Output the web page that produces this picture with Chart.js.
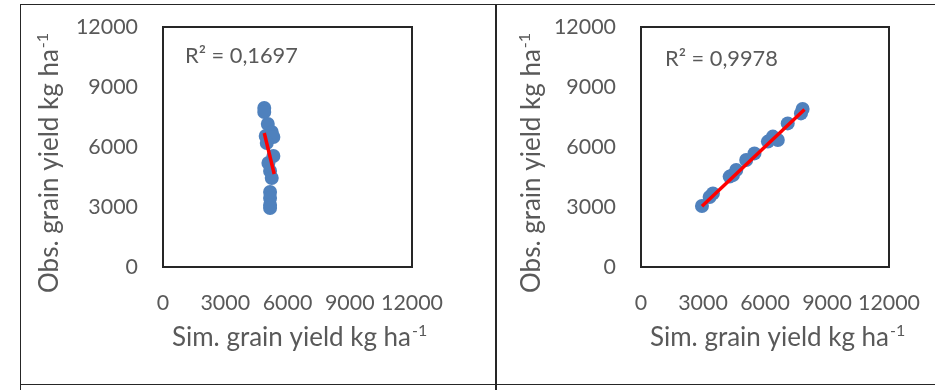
<!DOCTYPE html>
<html>
<head>
<meta charset="utf-8">
<script src="https://cdn.jsdelivr.net/npm/chart.js@4"></script>
<style>
  body { margin: 0; background: #fff; }
  #page { position: relative; width: 935px; height: 390px; overflow: hidden; background: #fff; }
  .rule { position: absolute; background: #262626; }
  canvas { position: absolute; }
</style>
</head>
<body>
<div id="page">
  <div class="rule" style="left:20px;top:4px;width:915px;height:1px"></div>
  <div class="rule" style="left:20px;top:384px;width:915px;height:1px"></div>
  <div class="rule" style="left:20px;top:4px;width:1px;height:386px"></div>
  <div class="rule" style="left:495px;top:4px;width:2px;height:386px"></div>
  <canvas id="chartLeft" width="474" height="379" style="left:21px;top:5px"></canvas>
  <canvas id="chartRight" width="438" height="379" style="left:497px;top:5px"></canvas>
</div>
<script>
// ---- data
var tickValues = [0, 3000, 6000, 9000, 12000];

// left panel
var leftSim = [4880, 4880, 5050, 5240, 4950, 5320, 5000, 5320, 5080, 5160, 5240, 5160, 5160, 5160, 5160];
var leftObs = [7950, 7750, 7150, 6750, 6550, 6500, 6200, 5550, 5200, 4800, 4450, 3750, 3450, 3100, 2950];
var leftTrendX = [4880, 5360];
var leftTrendY = [6700, 4650];
var leftR2 = '0,1697';

// right panel
var rightSim = [2950, 3320, 3480, 4290, 4450, 4610, 5090, 5490, 6140, 6380, 6620, 7100, 7740, 7820];
var rightObs = [3050, 3500, 3680, 4520, 4600, 4850, 5350, 5680, 6270, 6520, 6350, 7180, 7680, 7900];
var rightTrendX = [2950, 7910];
var rightTrendY = [3040, 7880];
var rightR2 = '0,9978';

var xTitle = 'Sim. grain yield kg ha';
var yTitle = 'Obs. grain yield kg ha';
var unitSup = '-1';

var textGrey = '#595959';
var blue = '#4f81bd';
var fontName = 'Lato';

// size fonts so the text widths match the picture (Calibri in the original)
var probe = document.createElement('canvas').getContext('2d');
function fitSize(text, base, width) {
    probe.font = base + 'px ' + fontName;
    return Math.round(base * width / probe.measureText(text).width * 10) / 10;
}
var tickSize = fitSize('12000', 21, 62);
var titleSize = fitSize(xTitle, 23, 239);
var r2Size = fitSize('R² = 0,1697', 21, 113);

function toPoints(xs, ys) {
    return xs.map((x, i) => ({ x: x, y: ys[i] }));
}

// draws text + a small raised "-1"
function supText(ctx, base, sup, x, y) {
    ctx.font = titleSize + 'px ' + fontName;
    ctx.fillText(base, x, y);
    let w = ctx.measureText(base).width;
    ctx.font = Math.round(titleSize * 0.62) + 'px ' + fontName;
    ctx.fillText(sup, x + w + 1, y - titleSize * 0.38);
}

var panelText = {
    id: 'panelText',
    afterDraw(chart, args, opts) {
        let ctx = chart.ctx;
        let a = chart.chartArea;
        ctx.save();
        // plot frame
        ctx.strokeStyle = '#262626';
        ctx.lineWidth = 2;
        ctx.strokeRect(a.left, a.top, a.right - a.left, a.bottom - a.top);

        ctx.fillStyle = textGrey;
        ctx.textAlign = 'left';
        ctx.textBaseline = 'alphabetic';

        // R² label
        ctx.font = r2Size + 'px ' + fontName;
        ctx.fillText('R² = ' + opts.r2, a.left + opts.r2dx, a.top + opts.r2dy);

        // x title
        supText(ctx, xTitle, unitSup, a.left + 9, a.bottom + 79);

        // y title, rotated
        ctx.translate(a.left - opts.yTitleGap, a.bottom + 26);
        ctx.rotate(-Math.PI / 2);
        supText(ctx, yTitle, unitSup, 0, 0);
        ctx.restore();
    }
};

function makeChart(id, sim, obs, trendX, trendY, r2, yWidth, rightPad, yTitleGap, r2dx, r2dy) {
    let ctx = document.getElementById(id).getContext('2d');
    return new Chart(ctx, {
        type: 'scatter',
        data: {
            datasets: [
                {
                    type: 'line',
                    label: 'Trend',
                    data: toPoints(trendX, trendY),
                    borderColor: '#ff0000',
                    borderWidth: 3.5,
                    pointRadius: 0,
                    fill: false,
                    order: 0
                },
                {
                    label: 'Obs',
                    data: toPoints(sim, obs),
                    pointRadius: 7,
                    pointBackgroundColor: blue,
                    pointBorderColor: blue,
                    pointBorderWidth: 0,
                    order: 1
                }
            ]
        },
        options: {
            responsive: false,
            animation: false,
            events: [],
            layout: { padding: { top: 22, right: rightPad, left: 0, bottom: 0 } },
            plugins: {
                legend: { display: false },
                tooltip: { enabled: false },
                panelText: { r2: r2, yTitleGap: yTitleGap, r2dx: r2dx, r2dy: r2dy }
            },
            scales: {
                x: {
                    type: 'linear',
                    min: 0,
                    max: 12000,
                    afterBuildTicks: s => { s.ticks = tickValues.map(v => ({ value: v })); },
                    afterFit: s => { s.height = 117; s.paddingLeft = 0; s.paddingRight = 0; },
                    grid: { display: false, drawTicks: false },
                    border: { display: false },
                    ticks: {
                        autoSkip: false,
                        padding: 23,
                        maxRotation: 0,
                        color: textGrey,
                        font: { family: fontName, size: tickSize },
                        callback: v => String(v)
                    }
                },
                y: {
                    type: 'linear',
                    min: 0,
                    max: 12000,
                    afterBuildTicks: s => { s.ticks = tickValues.map(v => ({ value: v })); },
                    afterFit: s => { s.width = yWidth; s.paddingTop = 0; s.paddingBottom = 0; },
                    grid: { display: false, drawTicks: false },
                    border: { display: false },
                    ticks: {
                        autoSkip: false,
                        padding: 25,
                        color: textGrey,
                        font: { family: fontName, size: tickSize },
                        callback: v => String(v)
                    }
                }
            }
        },
        plugins: [panelText]
    });
}

makeChart('chartLeft', leftSim, leftObs, leftTrendX, leftTrendY, leftR2, 142, 83, 105, 22, 36);
makeChart('chartRight', rightSim, rightObs, rightTrendX, rightTrendY, rightR2, 144, 46, 101, 24, 39);
</script>
</body>
</html>
